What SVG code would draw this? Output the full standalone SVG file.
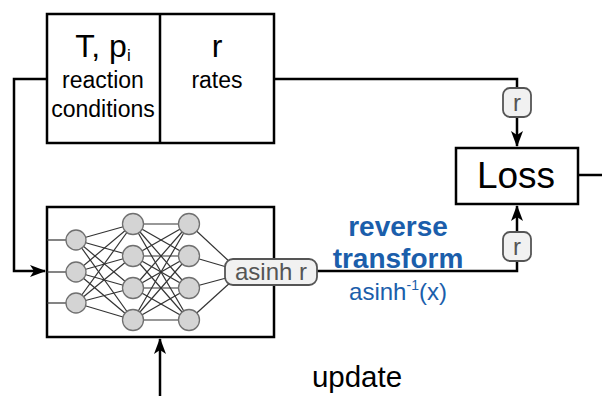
<svg xmlns="http://www.w3.org/2000/svg" width="602" height="396" viewBox="0 0 602 396">
  <style>
    .box { fill: #fff; stroke: #000; stroke-width: 2.5; }
    .wire { fill: none; stroke: #000; stroke-width: 2.5; }
    .edge { stroke: #333; stroke-width: 1.2; }
    .neuron { fill: #d4d4d4; stroke: #707070; stroke-width: 1.3; }
    .pill { fill: #f1f1f1; stroke: #555; stroke-width: 1.8; }
    .pilltxt { font-family: "Liberation Sans", Arial, sans-serif; fill: #555; text-anchor: middle; }
    .lbl { font-family: "Liberation Sans", Arial, sans-serif; fill: #000; text-anchor: middle; }
    .blue { font-family: "Liberation Sans", Arial, sans-serif; fill: #1b5eab; text-anchor: middle; }
  </style>
  <defs>
    <marker id="arrow" viewBox="0 0 16 12" refX="15" refY="6" markerWidth="16" markerHeight="12" markerUnits="userSpaceOnUse" orient="auto">
      <path d="M0,0 L16,6 L0,12 L4,6 Z" fill="#000"/>
    </marker>
  </defs>

  <!-- connectors -->
  <g id="connectors">
    <polyline class="wire" points="47,79 14,79 14,271 45,271" marker-end="url(#arrow)"/>
    <polyline class="wire" points="274,79 517,79 517,146" marker-end="url(#arrow)"/>
    <polyline class="wire" points="317,271 517,271 517,206" marker-end="url(#arrow)"/>
    <line class="wire" x1="578" y1="175" x2="602" y2="175"/>
    <line class="wire" x1="160" y1="396" x2="160" y2="339" marker-end="url(#arrow)"/>
  </g>

  <!-- inputs / targets table -->
  <g id="data">
    <rect class="box" x="47" y="14" width="227" height="129"/>
    <line class="wire" x1="160" y1="14" x2="160" y2="143" stroke-width="2"/>
    <text class="lbl" x="103" y="57" font-size="32">T, p<tspan font-size="17" dy="4">i</tspan></text>
    <text class="lbl" x="103" y="88" font-size="23">reaction</text>
    <text class="lbl" x="103" y="117" font-size="23">conditions</text>
    <text class="lbl" x="217" y="57" font-size="32">r</text>
    <text class="lbl" x="217" y="88" font-size="23">rates</text>
  </g>

  <!-- neural network -->
  <g id="network">
    <rect class="box" x="47" y="207" width="227" height="130"/>
    <g class="edge">
      <!-- inputs -->
      <line x1="47" y1="240" x2="76" y2="240"/>
      <line x1="47" y1="272" x2="76" y2="272"/>
      <line x1="47" y1="303" x2="76" y2="303"/>
      <!-- layer 1 to layer 2 -->
      <line x1="76" y1="240" x2="133" y2="224"/><line x1="76" y1="240" x2="133" y2="256"/><line x1="76" y1="240" x2="133" y2="288"/><line x1="76" y1="240" x2="133" y2="320"/>
      <line x1="76" y1="272" x2="133" y2="224"/><line x1="76" y1="272" x2="133" y2="256"/><line x1="76" y1="272" x2="133" y2="288"/><line x1="76" y1="272" x2="133" y2="320"/>
      <line x1="76" y1="303" x2="133" y2="224"/><line x1="76" y1="303" x2="133" y2="256"/><line x1="76" y1="303" x2="133" y2="288"/><line x1="76" y1="303" x2="133" y2="320"/>
      <!-- layer 2 to layer 3 -->
      <line x1="133" y1="224" x2="189" y2="224"/><line x1="133" y1="224" x2="189" y2="256"/><line x1="133" y1="224" x2="189" y2="288"/><line x1="133" y1="224" x2="189" y2="320"/>
      <line x1="133" y1="256" x2="189" y2="224"/><line x1="133" y1="256" x2="189" y2="256"/><line x1="133" y1="256" x2="189" y2="288"/><line x1="133" y1="256" x2="189" y2="320"/>
      <line x1="133" y1="288" x2="189" y2="224"/><line x1="133" y1="288" x2="189" y2="256"/><line x1="133" y1="288" x2="189" y2="288"/><line x1="133" y1="288" x2="189" y2="320"/>
      <line x1="133" y1="320" x2="189" y2="224"/><line x1="133" y1="320" x2="189" y2="256"/><line x1="133" y1="320" x2="189" y2="288"/><line x1="133" y1="320" x2="189" y2="320"/>
      <!-- layer 3 to output -->
      <line x1="189" y1="224" x2="232" y2="264"/>
      <line x1="189" y1="256" x2="230" y2="268"/>
      <line x1="189" y1="288" x2="230" y2="277"/>
      <line x1="189" y1="320" x2="232" y2="281"/>
    </g>
    <circle class="neuron" cx="76" cy="240" r="10"/>
    <circle class="neuron" cx="76" cy="272" r="10"/>
    <circle class="neuron" cx="76" cy="303" r="10"/>
    <circle class="neuron" cx="133" cy="224" r="10.5"/>
    <circle class="neuron" cx="133" cy="256" r="10.5"/>
    <circle class="neuron" cx="133" cy="288" r="10.5"/>
    <circle class="neuron" cx="133" cy="320" r="10.5"/>
    <circle class="neuron" cx="189" cy="224" r="10.5"/>
    <circle class="neuron" cx="189" cy="256" r="10.5"/>
    <circle class="neuron" cx="189" cy="288" r="10.5"/>
    <circle class="neuron" cx="189" cy="320" r="10.5"/>
  </g>

  <g id="output">
    <rect class="pill" x="225" y="259" width="92" height="26" rx="8"/>
    <text class="pilltxt" x="271" y="280" font-size="24">asinh r</text>
  </g>

  <g id="loss">
    <rect class="box" x="456" y="148" width="122" height="56"/>
    <text class="lbl" x="516" y="188" font-size="37">Loss</text>
  </g>

  <g id="r-target">
    <rect class="pill" x="503" y="88" width="28" height="29" rx="7"/>
    <text class="pilltxt" x="517" y="111" font-size="24">r</text>
  </g>
  <g id="r-predicted">
    <rect class="pill" x="503" y="232" width="28" height="29" rx="7"/>
    <text class="pilltxt" x="517" y="255" font-size="24">r</text>
  </g>

  <g id="reverse-transform">
    <text class="blue" x="398" y="236" font-size="28" font-weight="bold">reverse</text>
    <text class="blue" x="398" y="267.5" font-size="28" font-weight="bold">transform</text>
    <text class="blue" x="398" y="300" font-size="24">asinh<tspan font-size="14" dy="-10">-1</tspan><tspan dy="10">(x)</tspan></text>
  </g>

  <g id="update">
    <text class="lbl" x="357" y="387" font-size="29.5">update</text>
  </g>
</svg>
